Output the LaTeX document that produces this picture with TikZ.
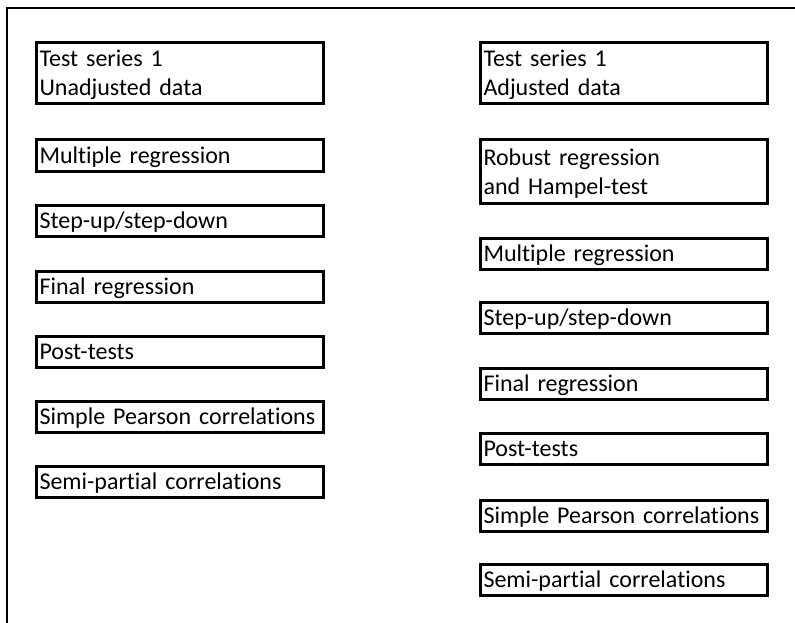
\documentclass[tikz,border=0pt]{standalone}
\usepackage{fontspec}
\setmainfont[Ligatures=NoCommon]{Carlito}
\newcommand\bstrut{\rule[-4pt]{0pt}{24pt}}
\tikzset{
  stepbox/.style={draw, line width=3pt, rectangle, anchor=north west,
    minimum width=287pt, minimum height=31pt, text width=280pt,
    inner xsep=3.5pt, inner ysep=0pt, align=left,
    font=\fontsize{24pt}{29pt}\selectfont},
  tallbox/.style={stepbox, minimum height=61pt},
  frame/.style={line width=2pt}
}
\begin{document}
\begin{tikzpicture}[x=1pt,y=-1pt]
\useasboundingbox (0,0) rectangle (795,623);
\draw[frame] (795,8) -- (7,8) -- (7,623);
% left column
\node[tallbox] (l1) at (34.5,41.5) {\bstrut Test series 1\\\bstrut Unadjusted data};
\node[stepbox] (l2) at (34.5,138.5) {\bstrut Multiple regression};
\node[stepbox] (l3) at (34.5,203.5) {\bstrut Step-up/step-down};
\node[stepbox] (l4) at (34.5,269.5) {\bstrut Final regression};
\node[stepbox] (l5) at (34.5,334.5) {\bstrut Post-tests};
\node[stepbox] (l6) at (34.5,399.5) {\bstrut Simple Pearson correlations};
\node[stepbox] (l7) at (34.5,464.5) {\bstrut Semi-partial correlations};
% right column
\node[tallbox] (r1) at (478.5,41.5) {\bstrut Test series 1\\\bstrut Adjusted data};
\node[stepbox, minimum height=63pt] (r2) at (478.5,138.5) {\bstrut Robust regression\\\bstrut and Hampel-test};
\node[stepbox] (r3) at (478.5,236.5) {\bstrut Multiple regression};
\node[stepbox] (r4) at (478.5,300.5) {\bstrut Step-up/step-down};
\node[stepbox] (r5) at (478.5,366.5) {\bstrut Final regression};
\node[stepbox] (r6) at (478.5,431.5) {\bstrut Post-tests};
\node[stepbox] (r7) at (478.5,498.5) {\bstrut Simple Pearson correlations};
\node[stepbox] (r8) at (478.5,562.5) {\bstrut Semi-partial correlations};
\end{tikzpicture}
\end{document}
